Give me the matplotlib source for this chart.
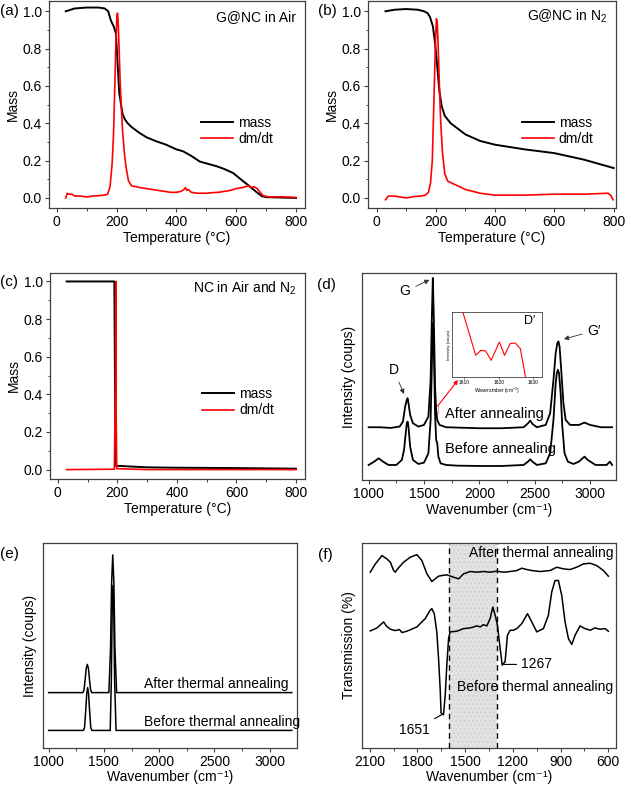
import numpy as np
import matplotlib
matplotlib.use("Agg")
import matplotlib.pyplot as plt
from matplotlib.patches import Rectangle
from matplotlib.ticker import MultipleLocator

plt.rcParams['font.family'] = ['Liberation Sans', 'DejaVu Sans']
plt.rcParams['mathtext.fontset'] = 'custom'
plt.rcParams['mathtext.rm'] = 'Liberation Sans'
plt.rcParams['mathtext.it'] = 'Liberation Sans:italic'
plt.rcParams['hatch.linewidth'] = 0.4

# ---- (a) G@NC in air ----
a_T = [30, 60, 100, 140, 160, 172, 181, 190, 198, 204, 209, 215, 220, 228, 237, 250, 275, 300, 330, 366,
       400, 422, 450, 478, 500, 534, 560, 590, 615, 645, 665, 685, 700, 750, 800]
a_mass = [1.0, 1.015, 1.02, 1.02, 1.015, 1.0, 0.95, 0.92, 0.88, 0.70, 0.56, 0.50, 0.45, 0.42, 0.40, 0.38,
          0.35, 0.325, 0.305, 0.285, 0.26, 0.25, 0.225, 0.195, 0.185, 0.17, 0.155, 0.133, 0.10, 0.062,
          0.035, 0.01, 0.004, 0.002, 0.0]
a_dT = [30, 35, 40, 50, 60, 80, 100, 120, 140, 160, 170, 178, 185, 190, 194, 198, 201, 203, 205, 208, 212,
        216, 220, 226, 232, 240, 250, 265, 280, 300, 320, 340, 360, 380, 400, 415, 425, 430, 435, 440, 450,
        470, 500, 520, 540, 560, 580, 600, 620, 630, 640, 650, 660, 670, 680, 690, 700, 720, 750, 780, 800]
a_dmdt = [0.0, 0.025, 0.02, 0.02, 0.01, 0.01, 0.005, 0.01, 0.012, 0.015, 0.02, 0.06, 0.18, 0.35, 0.6, 0.85,
          0.97, 0.99, 0.95, 0.82, 0.62, 0.48, 0.36, 0.24, 0.16, 0.09, 0.065, 0.06, 0.055, 0.05, 0.045, 0.04,
          0.035, 0.03, 0.03, 0.035, 0.045, 0.055, 0.04, 0.045, 0.03, 0.025, 0.025, 0.028, 0.03, 0.035, 0.04,
          0.05, 0.055, 0.06, 0.065, 0.055, 0.06, 0.05, 0.03, 0.012, 0.008, 0.005, 0.006, 0.004, 0.002]

# ---- (b) G@NC in N2 ----
b_T = [30, 60, 100, 140, 160, 172, 180, 190, 198, 205, 212, 220, 230, 250, 275, 300, 350, 400, 500, 600,
       700, 800]
b_mass = [1.0, 1.008, 1.012, 1.008, 1.0, 0.99, 0.97, 0.92, 0.82, 0.70, 0.57, 0.49, 0.44, 0.40, 0.37, 0.34,
          0.305, 0.285, 0.26, 0.24, 0.205, 0.16]
b_dT = [30, 40, 60, 80, 100, 130, 150, 165, 175, 182, 188, 194, 199, 202, 205, 208, 212, 216, 222, 230, 240,
        260, 280, 300, 350, 400, 500, 600, 700, 780, 790, 798]
b_dmdt = [-0.01, 0.01, 0.01, 0.005, 0.0, 0.008, 0.01, 0.015, 0.03, 0.08, 0.2, 0.55, 0.85, 0.96, 0.93, 0.8,
          0.6, 0.42, 0.25, 0.13, 0.09, 0.075, 0.06, 0.045, 0.025, 0.015, 0.015, 0.02, 0.02, 0.025, 0.015,
          -0.01]

# ---- (c) NC in air and N2 ----
c_T = [30, 120, 190, 192, 194, 200, 300, 400, 600, 800]
c_mass = [1.0, 1.0, 1.0, 0.5, 0.02, 0.02, 0.012, 0.01, 0.008, 0.005]
c_dT = [30, 190, 194, 195, 196, 198, 300, 600, 800]
c_dmdt = [0.0, 0.002, 0.5, 1.0, 0.3, 0.005, 0.0, 0.0, 0.0]

# ---- (d) Raman ----
d_wn_before = [1000, 1050, 1090, 1130, 1180, 1250, 1300, 1320, 1335, 1345, 1352, 1360, 1375, 1400, 1450,
               1500, 1540, 1560, 1575, 1582, 1590, 1600, 1610, 1620, 1630, 1650, 1700, 1800, 2000, 2200,
               2400, 2440, 2460, 2480, 2520, 2600, 2640, 2670, 2690, 2700, 2710, 2720, 2735, 2750, 2770,
               2800, 2850, 2900, 2950, 2980, 3050, 3150, 3180, 3200]
d_before = [45, 55, 65, 55, 45, 45, 60, 90, 140, 170, 175, 160, 100, 60, 48, 52, 80, 180, 400, 470, 380,
            200, 120, 110, 70, 50, 45, 43, 42, 42, 45, 55, 62, 55, 45, 50, 80, 180, 290, 320, 330, 320, 260,
            160, 80, 55, 48, 55, 70, 60, 45, 45, 55, 45]
d_wn_after = [1000, 1100, 1200, 1280, 1310, 1330, 1345, 1352, 1360, 1375, 1400, 1450, 1500, 1540, 1560,
              1572, 1580, 1588, 1600, 1610, 1620, 1640, 1700, 2000, 2200, 2400, 2440, 2460, 2480, 2520,
              2600, 2640, 2670, 2690, 2705, 2715, 2725, 2740, 2760, 2780, 2820, 2900, 2950, 3000, 3100,
              3200]
d_after = [158, 158, 156, 160, 175, 220, 240, 245, 230, 195, 170, 160, 165, 190, 300, 500, 605, 500, 280,
           210, 180, 165, 158, 155, 155, 158, 170, 178, 168, 158, 165, 200, 300, 380, 410, 415, 400, 330,
           230, 180, 165, 165, 172, 165, 158, 158]
inset_wn = [1609.4, 1613.3, 1614.8, 1616.2, 1617.8, 1620.2, 1621.7, 1623.3, 1624.8, 1626.3, 1627.8]
inset_int = [200, 65, 80, 78, 50, 105, 65, 100, 102, 85, 0]

# ---- (e) simulated Raman ----
e_wn_after = [1000, 1310, 1320, 1330, 1340, 1350, 1360, 1370, 1380, 1390, 1545, 1560, 1570, 1580, 1590,
              1600, 1615, 3200]
e_after = [167, 167, 175, 205, 240, 252, 240, 205, 175, 167, 167, 300, 500, 582, 500, 300, 167, 167]
e_wn_before = [1000, 1315, 1325, 1335, 1345, 1353, 1361, 1371, 1381, 1391, 1557, 1567, 1575, 1582, 1589,
               1597, 1610, 3200]
e_before = [53, 53, 62, 110, 165, 182, 165, 110, 62, 53, 53, 200, 420, 490, 420, 200, 53, 53]

# ---- (f) FTIR ----
f_wn_after = [2096, 2064, 2023, 1991, 1970, 1949, 1939, 1924, 1887, 1845, 1803, 1772, 1740, 1709, 1688,
              1667, 1646, 1615, 1573, 1541, 1510, 1468, 1426, 1385, 1343, 1301, 1259, 1217, 1175, 1144,
              1113, 1081, 1029, 966, 924, 882, 841, 799, 757, 715, 673, 631, 600]
f_after = [530, 555, 580, 570, 560, 535, 530, 540, 560, 575, 583, 565, 525, 502, 510, 518, 520, 522, 515,
           510, 525, 532, 530, 532, 530, 533, 530, 532, 535, 542, 538, 535, 532, 535, 545, 540, 538, 545,
           555, 557, 550, 535, 518]
f_wn_before = [2096, 2054, 2012, 1995, 1970, 1939, 1912, 1897, 1866, 1803, 1751, 1720, 1709, 1694, 1678,
               1667, 1657, 1651, 1636, 1625, 1615, 1604, 1594, 1552, 1510, 1468, 1426, 1405, 1385, 1364,
               1343, 1326, 1311, 1297, 1280, 1267, 1249, 1234, 1217, 1196, 1175, 1144, 1108, 1081, 1050,
               1008, 977, 956, 935, 914, 893, 872, 851, 830, 809, 778, 747, 715, 684, 652, 621, 600]
f_before = [353, 362, 380, 368, 358, 354, 357, 348, 352, 365, 390, 415, 420, 405, 350, 270, 180, 105, 100,
            160, 250, 330, 350, 352, 360, 362, 368, 365, 372, 368, 390, 425, 400, 370, 300, 250, 260, 340,
            355, 355, 360, 375, 405, 380, 350, 360, 400, 470, 505, 505, 460, 380, 330, 312, 340, 368, 360,
            355, 362, 358, 360, 352]

W, H = 627, 789
fig = plt.figure(figsize=(W / 100, H / 100), dpi=100)
WN_LABEL = 'Wavenumber (cm⁻¹)'


def px_axes(left, top, right, bottom):
    return fig.add_axes([left / W, 1 - bottom / H, (right - left) / W, (bottom - top) / H])


def style(ax, yticks=True):
    for s in ax.spines.values():
        s.set_color('#404040')
        s.set_linewidth(0.9)
    ax.tick_params(which='both', direction='out', top=False, right=False, labelsize=10, color='#404040')
    ax.tick_params(which='major', length=2.8, width=0.8, pad=2.5)
    ax.tick_params(which='minor', length=1.8, width=0.7)
    if not yticks:
        ax.tick_params(axis='y', which='both', left=False, labelleft=False)


def tga_panel(ax, T, m, dT, dm, title, legx):
    ax.plot(T, m, color='black', lw=1.4, label='mass')
    ax.plot(dT, dm, color='red', lw=1.2, label='dm/dt')
    ax.set_xlim(-26, 830)
    ax.set_ylim(-0.054, 1.055)
    ax.xaxis.set_major_locator(MultipleLocator(200))
    ax.xaxis.set_minor_locator(MultipleLocator(100))
    ax.yaxis.set_major_locator(MultipleLocator(0.2))
    ax.yaxis.set_minor_locator(MultipleLocator(0.1))
    ax.yaxis.set_major_formatter(matplotlib.ticker.FormatStrFormatter('%.1f'))
    ax.set_xlabel('Temperature (°C)', fontsize=10, labelpad=1)
    ax.set_ylabel('Mass', fontsize=10, labelpad=2)
    ax.text(0.965, 0.925, title, transform=ax.transAxes, ha='right', va='center', fontsize=10)
    ax.legend(loc='upper left', bbox_to_anchor=(legx, 0.445), frameon=False, fontsize=10,
              handlelength=2.3, handletextpad=0.35, labelspacing=0.15, borderpad=0, borderaxespad=0)
    style(ax)


ax_a = px_axes(49, 1, 305, 208)
tga_panel(ax_a, a_T, a_mass, a_dT, a_dmdt, 'G@NC in Air', 0.595)
ax_a.set_xlim(-26, 830)

ax_b = px_axes(368, 1, 616, 208)
tga_panel(ax_b, b_T, b_mass, b_dT, b_dmdt, 'G@NC in N$\\mathregular{_2}$', 0.62)
ax_b.set_xlim(-29, 808)

ax_c = px_axes(50, 273, 305, 479)
tga_panel(ax_c, c_T, c_mass, c_dT, c_dmdt, 'NC in Air and N$\\mathregular{_2}$', 0.597)
ax_c.set_ylim(-0.05, 1.045)

# (d)
ax_d = px_axes(362, 273, 616, 480)
ax_d.plot(d_wn_before, d_before, color='black', lw=1.3)
ax_d.plot(d_wn_after, d_after, color='black', lw=1.3)
ax_d.set_xlim(940, 3235)
ax_d.set_ylim(0, 620)
ax_d.xaxis.set_major_locator(MultipleLocator(500))
ax_d.xaxis.set_minor_locator(MultipleLocator(250))
ax_d.set_xlabel(WN_LABEL, fontsize=10, labelpad=1)
ax_d.set_ylabel('Intensity (coups)', fontsize=10, labelpad=4)
style(ax_d, yticks=False)
arr = dict(arrowstyle='-|>', color='#303030', lw=0.6, mutation_scale=7)
ax_d.annotate('G', xy=(1572, 603), xytext=(1330, 565), fontsize=10, ha='center', va='center', arrowprops=arr)
ax_d.annotate('D', xy=(1330, 250), xytext=(1225, 330), fontsize=10, ha='center', va='center', arrowprops=arr)
ax_d.annotate('G′', xy=(2740, 420), xytext=(3040, 447), fontsize=10, ha='center', va='center', arrowprops=arr)
ax_d.text(1692, 197, 'After annealing', fontsize=10.5, va='center')
ax_d.text(1692, 93, 'Before annealing', fontsize=10.5, va='center')
ax_d.add_patch(Rectangle((1597, 200), 32, 26, fill=False, edgecolor='#f09090', lw=0.7))
ax_d.annotate('', xy=(458 / W, 1 - 380 / H), xycoords='figure fraction', xytext=(1625, 222),
              textcoords='data',
              arrowprops=dict(arrowstyle='-|>', color='red', lw=0.8, mutation_scale=6, shrinkA=0, shrinkB=0))

ax_in = px_axes(452, 312, 542, 377)
ax_in.plot(inset_wn, inset_int, color='red', lw=0.8)
ax_in.set_xlim(1606.4, 1632.6)
ax_in.set_ylim(0, 195)
ax_in.set_xticks([1610, 1620, 1630])
ax_in.tick_params(axis='x', labelsize=3.5, length=1.5, width=0.4, pad=1)
ax_in.tick_params(axis='y', left=False, labelleft=False)
for s in ax_in.spines.values():
    s.set_linewidth(0.6)
    s.set_color('#404040')
ax_in.set_xlabel('Wavenumber (cm$^{-1}$)', fontsize=3.5, labelpad=0.5)
ax_in.set_ylabel('Intensity (coups)', fontsize=3, labelpad=1)
ax_in.text(0.93, 0.86, 'D′', transform=ax_in.transAxes, ha='right', va='center', fontsize=9)

# (e)
ax_e = px_axes(43, 543, 297, 748)
ax_e.plot(e_wn_after, e_after, color='black', lw=1.1)
ax_e.plot(e_wn_before, e_before, color='black', lw=1.1)
ax_e.set_xlim(949, 3247)
ax_e.set_ylim(0, 618)
ax_e.xaxis.set_major_locator(MultipleLocator(500))
ax_e.xaxis.set_minor_locator(MultipleLocator(250))
ax_e.set_xlabel(WN_LABEL, fontsize=10, labelpad=0.5)
ax_e.set_ylabel('Intensity (coups)', fontsize=10, labelpad=4)
style(ax_e, yticks=False)
ax_e.text(1866, 192, 'After thermal annealing', fontsize=10, va='center')
ax_e.text(1866, 79, 'Before thermal annealing', fontsize=10, va='center')

# (f)
ax_f = px_axes(362, 543, 616, 748)
ax_f.axvspan(1300, 1600, facecolor='#e2e2e2', edgecolor='#c8c8c8', hatch='....', lw=0)
ax_f.axvline(1600, color='black', ls='--', lw=1.0, dashes=(4, 3))
ax_f.axvline(1300, color='black', ls='--', lw=1.0, dashes=(4, 3))
ax_f.plot(f_wn_after, f_after, color='black', lw=1.1)
ax_f.plot(f_wn_before, f_before, color='black', lw=1.1)
ax_f.set_xlim(2148, 552)
ax_f.set_ylim(0, 618)
ax_f.xaxis.set_major_locator(MultipleLocator(300))
ax_f.xaxis.set_minor_locator(MultipleLocator(150))
ax_f.set_xlabel(WN_LABEL, fontsize=10, labelpad=0.5)
ax_f.set_ylabel('Transmission (%)', fontsize=10, labelpad=4)
style(ax_f, yticks=False)
ax_f.text(0.99, 0.951, 'After thermal annealing', transform=ax_f.transAxes, ha='right', va='center', fontsize=10)
ax_f.text(0.99, 0.30, 'Before thermal annealing', transform=ax_f.transAxes, ha='right', va='center', fontsize=10)
ax_f.annotate('1651', xy=(1648, 100), xytext=(1820, 55), fontsize=10, ha='center', va='center',
              arrowprops=dict(arrowstyle='-', color='black', lw=0.8, shrinkA=2, shrinkB=0))
ax_f.annotate('1267', xy=(1262, 252), xytext=(1150, 252), fontsize=10, ha='left', va='center',
              arrowprops=dict(arrowstyle='-', color='black', lw=0.8, shrinkA=1, shrinkB=0))

# panel labels
for lab, x, y in [('(a)', 0, 11), ('(b)', 318, 11), ('(c)', 0, 282), ('(d)', 317, 285),
                  ('(e)', 0, 554), ('(f)', 318, 555)]:
    fig.text(x / W, 1 - y / H, lab, fontsize=11, va='center', ha='left')

fig.savefig('out.png', dpi=100)
